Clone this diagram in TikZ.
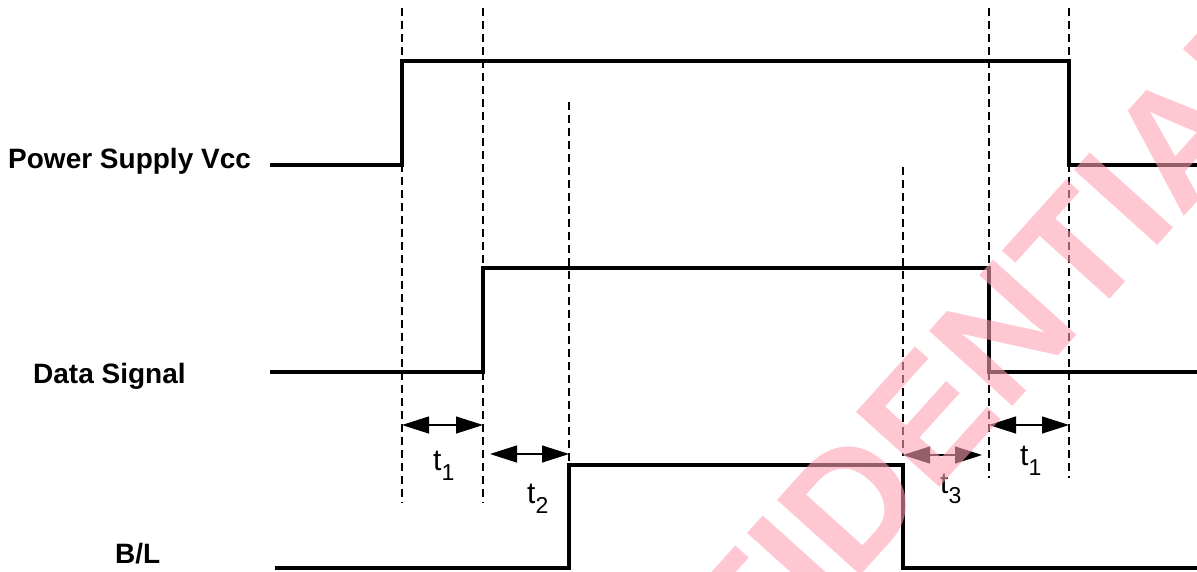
\documentclass[tikz,border=0pt]{standalone}
\usepackage{fontspec}
\setmainfont{Liberation Sans}
\usetikzlibrary{arrows.meta}
\definecolor{wmpink}{RGB}{254,161,178}
\begin{document}
\begin{tikzpicture}[x=1pt,y=-1pt,
  sig/.style={line width=3.1pt,line join=miter},
  guide/.style={line width=1.9pt,dash pattern=on 8pt off 5pt},
  dim/.style={line width=1.2pt,{Triangle[length=27pt,width=17pt]}-{Triangle[length=27pt,width=17pt]}},
  siglab/.style={font=\fontsize{28}{28}\selectfont\bfseries,inner sep=0pt,anchor=base west},
  tlab/.style={font=\fontsize{30}{30}\selectfont,inner sep=0pt,anchor=base west},
  wm/.style={font=\fontsize{163}{163}\selectfont\bfseries,text=wmpink,opacity=0.59,inner sep=0pt,text height=117pt,text depth=0pt}
]
\useasboundingbox (0,0) rectangle (1197,571);
\clip (0,0) rectangle (1197,571);
\fill[white] (0,0) rectangle (1197,571);

% signal labels
\node[siglab] (lvcc) at (8,168) {Power Supply Vcc};
\node[siglab] (ldata) at (33,383) {Data Signal};
\node[siglab] (lbl) at (115,563) {B/L};

% coordinates
\coordinate (v0) at (270,165); \coordinate (v1) at (402,165); \coordinate (v2) at (402,61);
\coordinate (v3) at (1069,61); \coordinate (v4) at (1069,165); \coordinate (v5) at (1199,165);
\coordinate (d0) at (270,372); \coordinate (d1) at (483,372); \coordinate (d2) at (483,268);
\coordinate (d3) at (989,268); \coordinate (d4) at (989,372); \coordinate (d5) at (1199,372);
\coordinate (b0) at (275,568); \coordinate (b1) at (569,568); \coordinate (b2) at (569,465);
\coordinate (b3) at (903,465); \coordinate (b4) at (903,568); \coordinate (b5) at (1199,568);

% dashed guides
\coordinate (g1t) at (402,8);  \coordinate (g1b) at (402,503);
\coordinate (g2t) at (483,8);  \coordinate (g2b) at (483,503);
\coordinate (g3t) at (569,102); \coordinate (g3b) at (569,465);
\coordinate (g4t) at (903,167); \coordinate (g4b) at (903,456);
\coordinate (g5t) at (989,8);  \coordinate (g5b) at (989,478);
\coordinate (g6t) at (1069,8); \coordinate (g6b) at (1069,478);
\foreach \g in {1,...,6} \draw[guide] (g\g t) -- (g\g b);

% signals
\draw[sig] (v0) -- (v1) -- (v2) -- (v3) -- (v4) -- (v5);
\draw[sig] (d0) -- (d1) -- (d2) -- (d3) -- (d4) -- (d5);
\draw[sig] (b0) -- (b1) -- (b2) -- (b3) -- (b4) -- (b5);

% dimension arrows
\coordinate (a1l) at (402,425); \coordinate (a1r) at (483,425);
\coordinate (a2l) at (490,454); \coordinate (a2r) at (569,454);
\coordinate (a3l) at (903,455); \coordinate (a3r) at (982,455);
\coordinate (a4l) at (989,425); \coordinate (a4r) at (1069,425);
\draw[dim] (a1l) -- (a1r);
\draw[dim] (a2l) -- (a2r);
\draw[dim] (a3l) -- (a3r);
\draw[dim] (a4l) -- (a4r);

\node[tlab] (t1a) at (433,470) {t\raisebox{-10pt}{\fontsize{23}{23}\selectfont 1}};
\node[tlab] (t2) at (527,503) {t\raisebox{-10pt}{\fontsize{23}{23}\selectfont 2}};
\node[tlab] (t3) at (940,493) {t\raisebox{-10pt}{\fontsize{23}{23}\selectfont 3}};
\node[tlab] (t1b) at (1020,465) {t\raisebox{-10pt}{\fontsize{23}{23}\selectfont 1}};

% watermark
\node[wm,rotate=48] (wmark) at (877,470) {CONFIDENTIAL};
\end{tikzpicture}
\end{document}
